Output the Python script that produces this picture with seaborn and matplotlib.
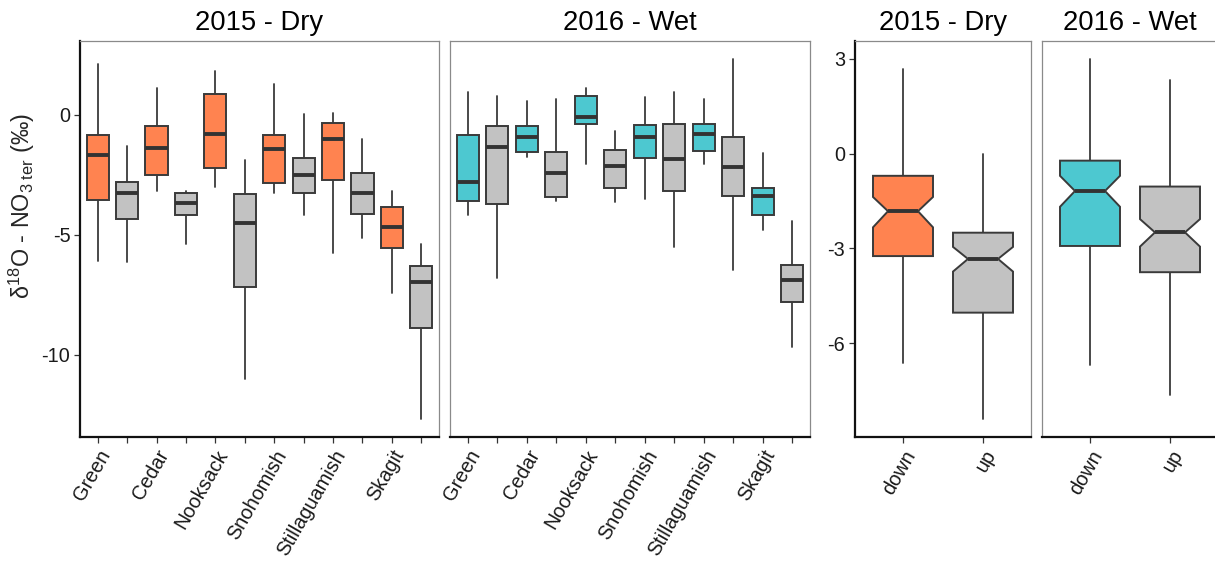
import matplotlib
matplotlib.use("Agg")
import matplotlib.pyplot as plt
import seaborn as sns

# ---- data -------------------------------------------------------------
rivers = ["Green", "Cedar", "Nooksack", "Snohomish", "Stillaguamish", "Skagit"]
sites = ["down", "up"]
seasons = ["2015 - Dry", "2016 - Wet"]

# per river, down then up (12 boxes per season)
dry_low = [-6.07, -6.14, -3.18, -5.36, -3.00, -11.00, -3.26, -4.18, -5.74, -5.13, -7.40, -12.65]
dry_q1 = [-3.53, -4.33, -2.50, -4.18, -2.22, -7.15, -2.82, -3.25, -2.71, -4.14, -5.54, -8.89]
dry_med = [-1.68, -3.24, -1.36, -3.68, -0.79, -4.50, -1.43, -2.49, -1.00, -3.24, -4.67, -6.96]
dry_q3 = [-0.83, -2.81, -0.46, -3.24, 0.89, -3.31, -0.83, -1.78, -0.33, -2.44, -3.85, -6.29]
dry_high = [2.13, -1.28, 1.11, -3.19, 1.83, -1.88, 1.28, 0.03, 0.07, -0.99, -3.15, -5.38]

wet_low = [-4.17, -6.81, -1.76, -3.57, -2.03, -3.64, -3.49, -5.49, -2.04, -6.46, -4.79, -9.65]
wet_q1 = [-3.58, -3.71, -1.54, -3.40, -0.39, -3.06, -1.79, -3.15, -1.49, -3.38, -4.17, -7.81]
wet_med = [-2.79, -1.33, -0.92, -2.42, -0.10, -2.13, -0.92, -1.82, -0.79, -2.15, -3.36, -6.88]
wet_q3 = [-0.85, -0.46, -0.46, -1.53, 0.78, -1.46, -0.44, -0.36, -0.36, -0.94, -3.06, -6.26]
wet_high = [0.97, 0.79, 0.57, 0.65, 1.11, -0.65, 0.76, 0.97, 0.68, 2.35, -1.57, -4.44]

# pooled by site: [dry down, dry up, wet down, wet up]
all_low = [-6.61, -8.38, -6.68, -7.65]
all_q1 = [-3.24, -5.03, -2.92, -3.75]
all_med = [-1.82, -3.33, -1.18, -2.49]
all_q3 = [-0.70, -2.50, -0.22, -1.04]
all_high = [2.67, 0.00, 3.00, 2.33]
all_ci_lo = [-2.33, -3.73, -1.68, -2.94]
all_ci_hi = [-1.37, -2.95, -0.70, -2.07]

# ---- style -----------------------------------------------------------
sns.set_theme(style="ticks")
plt.rcParams["font.family"] = ["Liberation Sans", "DejaVu Sans"]
plt.rcParams["mathtext.fontset"] = "custom"
plt.rcParams["mathtext.rm"] = "Liberation Sans"
plt.rcParams["mathtext.it"] = "Liberation Sans:italic"
plt.rcParams["mathtext.bf"] = "Liberation Sans:bold"

DOWN_COLORS = {"2015 - Dry": "#FF8350", "2016 - Wet": "#4DC8D0"}
UP_COLOR = "#C2C2C2"
EDGE = "#3a3a3a"
TICK_FS = 14.3
TITLE_FS = 19.7

fig = plt.figure(figsize=(12.15, 5.63), dpi=100)
W, H = 1215.0, 563.0


def add_ax(x0, x1, y0=41, y1=437):
    return fig.add_axes([x0 / W, 1 - y1 / H, (x1 - x0) / W, (y1 - y0) / H])


def stats_list(low, q1, med, q3, high, labels, ci_lo=None, ci_hi=None):
    out = []
    for i in range(len(med)):
        d = dict(whislo=low[i], q1=q1[i], med=med[i], q3=q3[i], whishi=high[i],
                 fliers=[], label=labels[i])
        if ci_lo is not None:
            d["cilo"] = ci_lo[i]
            d["cihi"] = ci_hi[i]
        out.append(d)
    return out


def draw_boxes(ax, stats, colors, notch=False):
    res = ax.bxp(stats, positions=list(range(len(stats))), widths=0.75,
                 patch_artist=True, showcaps=False, showfliers=False,
                 shownotches=notch, manage_ticks=False,
                 boxprops=dict(edgecolor=EDGE, linewidth=1.4),
                 whiskerprops=dict(color=EDGE, linewidth=1.3),
                 medianprops=dict(color="#333333", linewidth=2.8,
                                  solid_capstyle="butt"))
    for patch, c in zip(res["boxes"], colors):
        patch.set_facecolor(c)
    for w in res["whiskers"]:
        w.set_zorder(1)


def style_ax(ax, left_axis=True):
    for side in ("top", "right"):
        ax.spines[side].set_color("#8a8a8a")
        ax.spines[side].set_linewidth(0.9)
    ax.spines["bottom"].set_color("#111111")
    ax.spines["bottom"].set_linewidth(1.6)
    if left_axis:
        ax.spines["left"].set_color("#111111")
        ax.spines["left"].set_linewidth(1.6)
    else:
        ax.spines["left"].set_color("#8a8a8a")
        ax.spines["left"].set_linewidth(0.9)
        ax.tick_params(axis="y", left=False, labelleft=False)
    ax.tick_params(axis="both", direction="out", length=4, width=0.9,
                   color="#333333", labelsize=TICK_FS, labelcolor="#1a1a1a", pad=3)
    ax.set_facecolor("white")


# ---- per-river panels -------------------------------------------------
box_labels = [f"{r} {s}" for r in rivers for s in sites]
river_ticks = []
for r in rivers:
    river_ticks += [r, ""]

season_data = {
    "2015 - Dry": (dry_low, dry_q1, dry_med, dry_q3, dry_high),
    "2016 - Wet": (wet_low, wet_q1, wet_med, wet_q3, wet_high),
}
river_axes = [add_ax(80, 439), add_ax(450, 810)]
for i, (ax, season) in enumerate(zip(river_axes, seasons)):
    st = stats_list(*season_data[season], box_labels)
    cols = [DOWN_COLORS[season] if s == "down" else UP_COLOR
            for r in rivers for s in sites]
    draw_boxes(ax, st, cols)
    ax.set_xlim(-0.6, len(st) - 0.4)
    ax.set_ylim(-13.42, 3.08)
    ax.set_yticks([-10, -5, 0])
    ax.set_yticklabels(["-10", "-5", "0"])
    ax.set_xticks(range(len(st)))
    ax.set_xticklabels(river_ticks, rotation=60, ha="right",
                       rotation_mode="anchor")
    style_ax(ax, left_axis=(i == 0))
    ax.set_title(season, fontsize=TITLE_FS, pad=8, color="black")

river_axes[0].set_ylabel("δ$^{18}$O - NO$_{3\\ \\mathrm{ter}}$ (‰)",
                         fontsize=16.8)
river_axes[0].yaxis.set_label_coords(-0.12, 0.583)

# ---- pooled up/down panels (notched) -----------------------------------
pooled_axes = [add_ax(855, 1031), add_ax(1042, 1218)]
for i, (ax, season) in enumerate(zip(pooled_axes, seasons)):
    sl = slice(2 * i, 2 * i + 2)
    st = stats_list(all_low[sl], all_q1[sl], all_med[sl], all_q3[sl],
                    all_high[sl], sites, all_ci_lo[sl], all_ci_hi[sl])
    draw_boxes(ax, st, [DOWN_COLORS[season], UP_COLOR], notch=True)
    ax.set_xlim(-0.6, 1.6)
    ax.set_ylim(-8.965, 3.566)
    ax.set_yticks([-6, -3, 0, 3])
    ax.set_yticklabels(["-6", "-3", "0", "3"])
    ax.set_xticks([0, 1])
    ax.set_xticklabels(sites, rotation=60, ha="right", rotation_mode="anchor")
    style_ax(ax, left_axis=(i == 0))
    ax.set_title(season, fontsize=TITLE_FS, pad=8, color="black")

fig.savefig("out.png", dpi=100, facecolor="white")
